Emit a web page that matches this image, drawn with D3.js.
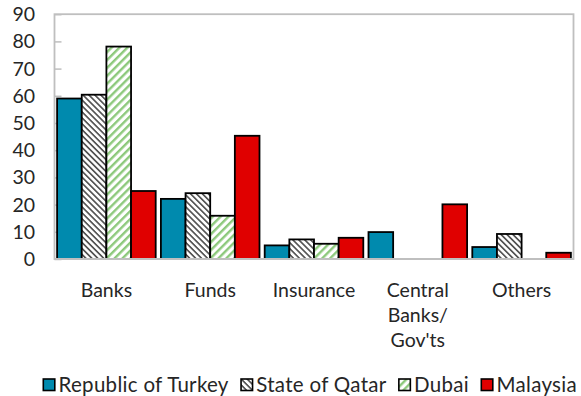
<!DOCTYPE html>
<html>
<head>
<meta charset="utf-8">
<script src="https://cdn.jsdelivr.net/npm/d3@7"></script>
<style>
  html, body { margin: 0; padding: 0; background: #fff; }
  svg { display: block; font-family: Lato, "Open Sans", sans-serif; }
</style>
</head>
<body>
<svg id="chart" width="581" height="396"></svg>
<script>
// Investor categories and their multi-line axis labels
const categories = ["Banks", "Funds", "Insurance", "Central Banks/ Gov'ts", "Others"];
const categoryLines = [["Banks"], ["Funds"], ["Insurance"], ["Central", "Banks/", "Gov'ts"], ["Others"]];

// Issuer series (null = no holding shown)
const seriesNames = ["Republic of Turkey", "State of Qatar", "Dubai", "Malaysia"];
const turkey   = [59, 22.1, 5.0, 9.9, 4.4];
const qatar    = [60.4, 24.2, 7.2, null, 9.2];
const dubai    = [78.1, 15.9, 5.6, null, null];
const malaysia = [25, 45.3, 7.8, 20.1, 2.3];
const seriesValues = [turkey, qatar, dubai, malaysia];

const yTicks = [0, 10, 20, 30, 40, 50, 60, 70, 80, 90];

const svg = d3.select("#chart");
const defs = svg.append("defs");

// Hatch fills: dense grey "\" for Qatar, wide green "/" for Dubai
const pQatar = defs.append("pattern")
  .attr("id", "hatch-qatar").attr("patternUnits", "userSpaceOnUse")
  .attr("width", 4.2).attr("height", 4.2)
  .attr("patternTransform", "rotate(45)");
pQatar.append("rect").attr("width", 4.2).attr("height", 4.2).attr("fill", "#fff");
pQatar.append("rect").attr("width", 4.2).attr("height", 1.7).attr("fill", "#555");

const pDubai = defs.append("pattern")
  .attr("id", "hatch-dubai").attr("patternUnits", "userSpaceOnUse")
  .attr("width", 8).attr("height", 5.6)
  .attr("patternTransform", "rotate(-45)");
pDubai.append("rect").attr("width", 8).attr("height", 5.6).attr("fill", "#fff");
pDubai.append("rect").attr("width", 8).attr("height", 2.4).attr("fill", "#8dc97c");

const fills = ["#008aae", "url(#hatch-qatar)", "url(#hatch-dubai)", "#e00000"];

const plot = { left: 54.5, right: 573.5, top: 14.2, bottom: 259 };

const x0 = d3.scaleBand().domain(categories).range([plot.left, plot.right]).padding(0);
const x1 = d3.scaleBand().domain(seriesNames)
  .range([2.6, x0.bandwidth() - 2.6]).padding(0);
const y = d3.scaleLinear().domain([0, 90]).range([plot.bottom, plot.top]);

// Plot frame
svg.append("rect")
  .attr("x", plot.left).attr("y", plot.top)
  .attr("width", plot.right - plot.left).attr("height", plot.bottom - plot.top)
  .attr("fill", "none").attr("stroke", "#bfbfbf").attr("stroke-width", 1.8);

// Y axis: inward ticks, labels on the left
const yAxis = d3.axisRight(y).tickValues(yTicks).tickSize(7).tickFormat("");
const gy = svg.append("g").attr("transform", `translate(${plot.left},0)`).call(yAxis);
gy.select(".domain").remove();
gy.selectAll(".tick line").attr("stroke", "#bfbfbf").attr("stroke-width", 1.5);

svg.append("g").selectAll("text").data(yTicks).join("text")
  .attr("x", 35).attr("y", d => y(d)).attr("dy", "0.36em")
  .attr("text-anchor", "end").attr("font-size", 19.5).attr("fill", "#262626")
  .text(d => d);

// Bars
const groups = svg.append("g").selectAll("g").data(categories).join("g")
  .attr("transform", d => `translate(${x0(d)},0)`);
groups.selectAll("rect")
  .data((c, ci) => seriesNames.map((s, si) => ({ s, si, v: seriesValues[si][ci] })).filter(d => d.v != null))
  .join("rect")
  .attr("x", d => x1(d.s)).attr("width", x1.bandwidth())
  .attr("y", d => y(d.v)).attr("height", d => y(0) - y(d.v))
  .attr("fill", d => fills[d.si]).attr("stroke", "#000").attr("stroke-width", 1.8);

// Baseline
svg.append("line")
  .attr("x1", plot.left).attr("x2", plot.right).attr("y1", y(0)).attr("y2", y(0))
  .attr("stroke", "#bfbfbf").attr("stroke-width", 2.2);

// Category labels
const labels = svg.append("g").selectAll("text").data(categories).join("text")
  .attr("text-anchor", "middle").attr("font-size", 19.5).attr("fill", "#262626")
  .attr("transform", d => `translate(${x0(d) + x0.bandwidth() / 2},297)`);
labels.selectAll("tspan").data((d, i) => categoryLines[i]).join("tspan")
  .attr("x", 0).attr("y", (d, i) => i * 25).text(d => d);

// Legend
const legend = svg.append("g");
let lx = 42.5;
seriesNames.forEach((name, i) => {
  legend.append("rect")
    .attr("x", lx + 0.8).attr("y", 379).attr("width", 11.5).attr("height", 11.5)
    .attr("fill", fills[i]).attr("stroke", "#000").attr("stroke-width", 1.6);
  const t = legend.append("text")
    .attr("x", lx + 16).attr("y", 392).attr("font-size", 20.5).attr("fill", "#262626")
    .attr("letter-spacing", 0.3)
    .text(name);
  lx += 16 + t.node().getComputedTextLength() + 11.5;
});
</script>
</body>
</html>
